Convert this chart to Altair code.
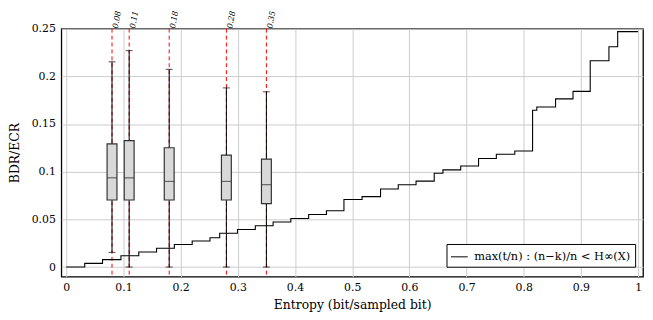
import altair as alt
import pandas as pd

# ---- data ----
step_x = [0.0, 0.0323, 0.0634, 0.0956, 0.1268, 0.1579, 0.189, 0.2202, 0.2513, 0.2683,
          0.2994, 0.3306, 0.3617, 0.3927, 0.4239, 0.455, 0.4856, 0.5173, 0.5496, 0.5806,
          0.6117, 0.6435, 0.6587, 0.6898, 0.721, 0.7521, 0.7844, 0.8155, 0.8229, 0.8557,
          0.8862, 0.9163, 0.949, 0.9643, 1.0]
step_y = [0.0, 0.0039, 0.0078, 0.0119, 0.0158, 0.0198, 0.0237, 0.0273, 0.0308, 0.0355,
          0.0394, 0.0433, 0.0472, 0.051, 0.0552, 0.059, 0.0708, 0.0739, 0.0819, 0.0864,
          0.0901, 0.0984, 0.1019, 0.106, 0.1138, 0.1183, 0.1217, 0.1644, 0.1678, 0.1764,
          0.1843, 0.2163, 0.2311, 0.2469, 0.2469]

box_pos = [0.08, 0.11, 0.18, 0.28, 0.35]
box_lo = [0.0154, 0.0, 0.0, 0.0, 0.0]
box_q1 = [0.0703, 0.0703, 0.0703, 0.0703, 0.0665]
box_med = [0.0936, 0.0936, 0.0898, 0.0898, 0.0864]
box_q3 = [0.1292, 0.1327, 0.1251, 0.1173, 0.1132]
box_hi = [0.2153, 0.2270, 0.2074, 0.1879, 0.1838]
box_labels = ["0.08", "0.11", "0.18", "0.28", "0.35"]

x_ticks = [0, 0.1, 0.2, 0.3, 0.4, 0.5, 0.6, 0.7, 0.8, 0.9, 1]
y_ticks = [0, 0.05, 0.1, 0.15, 0.2, 0.25]
x_domain = [0, 1]
y_domain = [-0.01, 0.25]

legend_label = "max(t/n) : (n−k)/n < H∞(X)"
x_title = "Entropy (bit/sampled bit)"
y_title = "BDR/ECR"

# ---- layout ----
PLOT_W = 589
PLOT_H = 251
FONT = "DejaVu Serif"

step_df = pd.DataFrame({"x": step_x, "y": step_y, "series": [legend_label] * len(step_x)})
box_df = pd.DataFrame({"pos": box_pos, "lo": box_lo, "q1": box_q1, "med": box_med,
                       "q3": box_q3, "hi": box_hi, "label": box_labels})

x_scale = alt.Scale(domain=x_domain, nice=False, zero=False)
y_scale = alt.Scale(domain=y_domain, nice=False, zero=False)

x_axis = alt.Axis(values=x_ticks, format="~g", title=x_title, grid=True, ticks=False,
                  domain=False, labelPadding=5, titlePadding=6,
                  labelFont=FONT, titleFont=FONT)
y_axis = alt.Axis(values=y_ticks, format="~g", title=y_title, grid=True, ticks=False,
                  domain=False, labelPadding=6, titlePadding=10,
                  labelFont=FONT, titleFont=FONT)

X = lambda f: alt.X(f, type="quantitative", scale=x_scale, axis=x_axis)
Y = lambda f: alt.Y(f, type="quantitative", scale=y_scale, axis=y_axis)

red_rules = alt.Chart(box_df).mark_rule(color="red", strokeDash=[4, 3], strokeWidth=1).encode(
    x=X("pos"), y=alt.value(0), y2=alt.value(PLOT_H)
)

line = alt.Chart(step_df).mark_line(interpolate="step-after", strokeWidth=1.1).encode(
    x=X("x"), y=Y("y"),
    color=alt.Color("series:N", scale=alt.Scale(range=["black"]),
                    legend=alt.Legend(title=None, orient="none", legendX=390, legendY=218,
                                      fillColor="white", strokeColor="black", padding=4,
                                      symbolType="stroke", symbolSize=289,
                                      symbolStrokeWidth=1, symbolStrokeColor="black",
                                      labelFont=FONT, labelFontSize=11.5, labelColor="black",
                                      labelOffset=6))
)

whiskers = alt.Chart(box_df).mark_rule(color="black", strokeWidth=1).encode(
    x=X("pos"), y=Y("lo"), y2="hi:Q"
)
cap_lo = alt.Chart(box_df).mark_tick(orient="horizontal", size=7, thickness=1, color="black").encode(
    x=X("pos"), y=Y("lo")
)
cap_hi = alt.Chart(box_df).mark_tick(orient="horizontal", size=7, thickness=1, color="black").encode(
    x=X("pos"), y=Y("hi")
)
boxes = alt.Chart(box_df).mark_bar(size=10, fill="#d9d9d9", stroke="#333333", strokeWidth=1.2,
                                   orient="vertical").encode(
    x=X("pos"), y=Y("q1"), y2="q3:Q"
)
medians = alt.Chart(box_df).mark_tick(orient="horizontal", size=10, thickness=1.2, color="#333333").encode(
    x=X("pos"), y=Y("med")
)
labels = alt.Chart(box_df).mark_text(angle=280, align="left", baseline="middle",
                                     fontStyle="italic", font=FONT, fontSize=8,
                                     color="black", dy=4).encode(
    x=X("pos"), y=alt.value(-1), text="label:N"
)

chart = alt.layer(red_rules, line, whiskers, cap_lo, cap_hi, boxes, medians, labels).properties(
    width=PLOT_W, height=PLOT_H,
    autosize=alt.AutoSizeParams(type="none"),
    padding={"left": 54, "top": 19, "right": 2, "bottom": 42},
).configure_view(
    stroke="black", strokeWidth=1.3
).configure_axis(
    labelFont=FONT, labelFontSize=11, labelColor="black",
    titleFont=FONT, titleFontSize=12.5, titleFontWeight="normal", titleColor="black",
    gridColor="#cccccc", gridWidth=1, gridOpacity=1
)

chart.save("out.html", embed_options={"renderer": "svg", "actions": False})
